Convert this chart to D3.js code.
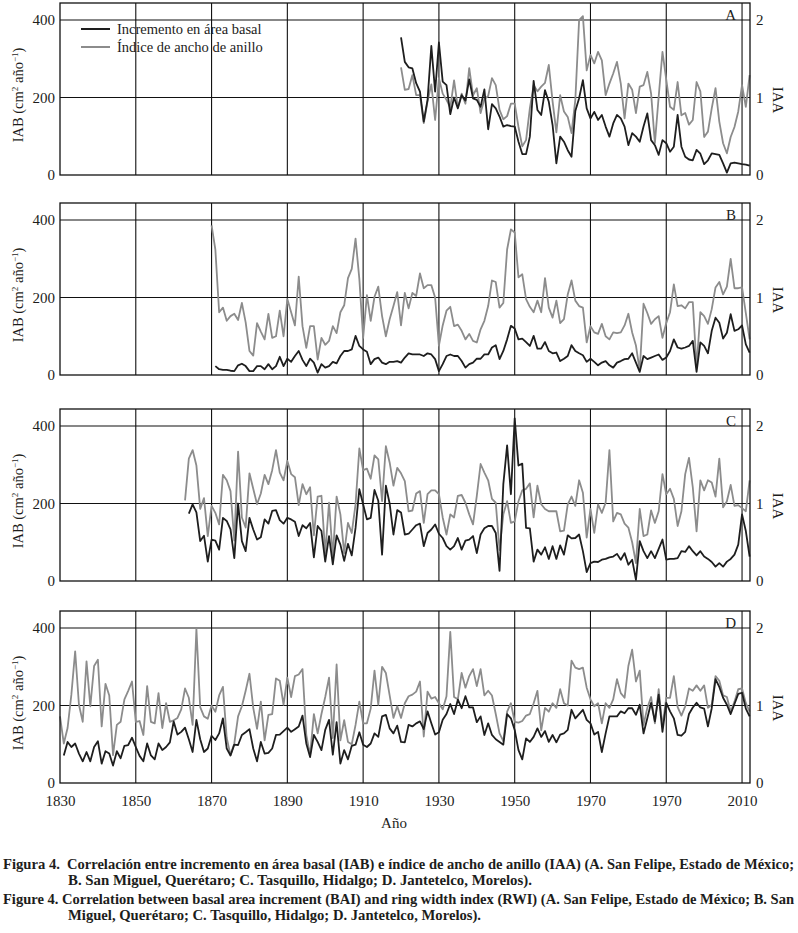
<!DOCTYPE html>
<html>
<head>
<meta charset="utf-8">
<script src="https://cdn.jsdelivr.net/npm/d3@7"></script>
<style>
  body { margin: 0; background: #fff; }
  svg { display: block; }
  text { font-family: "Liberation Serif", "DejaVu Serif", serif; fill: #1d1d1b; }
</style>
</head>
<body>
<script>
(function() {
  'use strict';

  // IAB (cm2/year) and IAA (index), one value per year from the start year
  var iabA = [
    355, 292, 278, 275, 237, 215, 138, 194, 333, 215,
    342, 241, 232, 157, 200, 172, 206, 192, 247, 198,
    194, 176, 221, 118, 183, 172, 151, 125, 129, 126,
    125, 86, 54, 54, 99, 243, 168, 155, 219, 189,
    129, 30, 99, 86, 64, 47, 165, 198, 245, 172,
    146, 163, 142, 155, 125, 99, 133, 155, 146, 125,
    77, 108, 99, 86, 125, 159, 90, 77, 52, 90,
    82, 60, 73, 155, 73, 47, 40, 38, 65, 55,
    28, 38, 56, 54, 52, 30, 6, 30, 32, 30,
    28, 27, 24
  ];
  var iaaA = [
    1.39, 1.10, 1.11, 1.29, 1.03, 1.03, 0.67, 0.95, 1.17, 0.71,
    1.25, 1.05, 0.97, 0.87, 1.22, 0.87, 1.05, 0.92, 1.38, 1.03,
    1.12, 0.80, 0.98, 1.02, 1.25, 1.16, 0.84, 0.72, 0.76, 0.92,
    0.92, 0.62, 0.37, 0.45, 0.86, 1.16, 1.08, 1.14, 1.19, 1.42,
    0.95, 0.55, 1.03, 0.82, 0.75, 0.54, 0.97, 2.00, 2.05, 1.35,
    1.55, 1.44, 1.59, 1.48, 1.03, 1.18, 1.31, 1.46, 1.18, 0.73,
    1.18, 1.10, 0.80, 1.14, 1.16, 1.33, 1.05, 0.41, 1.01, 1.59,
    1.23, 0.88, 0.84, 1.20, 0.77, 0.80, 0.65, 0.71, 1.20, 1.08,
    0.49, 0.56, 0.86, 1.12, 0.69, 0.41, 0.28, 0.49, 0.62, 0.82,
    1.16, 0.88, 1.29
  ];

  var iabB = [
    23, 15, 13, 13, 11, 10, 25, 29, 23,
    10, 10, 23, 23, 15, 28, 15, 23, 47, 23,
    42, 34, 49, 62, 39, 23, 42, 32, 6, 28,
    19, 23, 34, 30, 49, 62, 62, 66, 101, 75,
    66, 60, 28, 41, 45, 32, 28, 34, 34, 36,
    32, 45, 56, 53, 53, 53, 49, 56, 53, 41,
    10, 28, 49, 53, 49, 49, 36, 19, 28, 32,
    42, 42, 53, 53, 71, 77, 41, 62, 92, 127,
    120, 92, 94, 85, 75, 101, 68, 68, 85, 62,
    56, 58, 36, 42, 49, 77, 62, 56, 51, 34,
    42, 34, 25, 32, 36, 25, 19, 32, 36, 41,
    42, 56, 32, 8, 49, 41, 45, 49, 53, 39,
    45, 62, 92, 71, 68, 71, 75, 88, 8, 84,
    75, 56, 114, 148, 135, 94, 109, 157, 114, 118,
    128, 79, 58
  ];
  var iaaB = [
    1.93, 1.62, 0.81, 0.87, 0.70, 0.76, 0.79, 0.71, 0.93, 0.68,
    0.31, 0.25, 0.67, 0.56, 0.46, 0.79, 0.48, 0.50, 0.83, 0.50,
    0.98, 0.81, 0.64, 1.27, 0.63, 0.35, 0.63, 0.63, 0.20, 0.48,
    0.39, 0.44, 0.63, 0.54, 0.81, 0.90, 1.25, 1.37, 1.76, 1.24,
    0.48, 1.03, 0.70, 1.01, 1.14, 0.76, 0.50, 0.72, 0.89, 1.07,
    0.64, 1.06, 0.86, 1.06, 1.02, 1.31, 1.12, 1.16, 1.16, 1.00,
    0.38, 0.64, 0.83, 0.88, 0.63, 0.65, 0.57, 0.46, 0.53, 0.44,
    0.42, 0.59, 0.70, 0.89, 1.22, 1.20, 0.87, 0.93, 1.62, 1.88,
    1.84, 1.26, 1.30, 0.98, 0.88, 0.81, 0.96, 0.81, 1.25, 0.87,
    0.74, 0.96, 0.67, 0.72, 1.04, 1.22, 0.96, 0.89, 0.87, 0.42,
    0.63, 0.55, 0.53, 0.66, 0.50, 0.46, 0.55, 0.54, 0.55, 0.64,
    0.79, 0.55, 0.38, 0.06, 0.92, 0.80, 0.66, 0.72, 0.76, 0.48,
    0.67, 0.81, 1.17, 0.89, 0.90, 0.86, 0.94, 0.94, 0.10, 0.81,
    0.76, 0.66, 0.85, 1.13, 1.20, 1.04, 1.14, 1.50, 1.12, 1.12,
    1.13, 0.80, 0.46
  ];

  var iabC = [
    174, 198, 177, 103, 117, 50,
    107, 104, 81, 163, 155, 133, 59, 200, 103, 77,
    163, 133, 107, 113, 159, 148, 181, 183, 157, 148,
    163, 159, 153, 116, 144, 136, 150, 61, 142, 129,
    50, 116, 43, 118, 94, 52, 96, 66, 137, 237,
    198, 159, 163, 235, 207, 68, 246, 200, 120, 183,
    177, 120, 122, 133, 144, 148, 90, 124, 133, 146,
    122, 111, 90, 81, 90, 111, 81, 104, 107, 116,
    72, 120, 136, 142, 142, 124, 26, 250, 350, 224,
    420, 298, 303, 137, 136, 50, 81, 68, 87, 57,
    90, 57, 92, 68, 118, 110, 111, 120, 77, 23,
    46, 50, 49, 55, 57, 61, 63, 70, 55, 72,
    42, 55, 3, 103, 77, 59, 77, 59, 83, 107,
    55, 57, 57, 59, 77, 75, 90, 77, 66, 77,
    63, 57, 49, 37, 46, 37, 50, 57, 68, 94,
    172, 129, 63
  ];
  var iaaC = [
    1.04, 1.58, 1.69, 1.49, 0.93, 1.07, 0.58,
    0.97, 0.88, 0.73, 1.37, 1.30, 1.16, 0.52, 1.67, 0.82, 0.69,
    1.39, 1.19, 0.99, 1.13, 1.37, 1.25, 1.43, 1.69, 1.40, 1.30,
    1.55, 1.38, 1.34, 0.98, 1.25, 1.12, 1.21, 0.59, 1.09, 1.10,
    0.36, 1.01, 0.32, 1.09, 0.86, 0.36, 0.75, 0.62, 0.99, 1.71,
    1.43, 1.45, 1.32, 1.62, 1.57, 1.03, 1.74, 1.53, 1.23, 1.46,
    1.39, 1.29, 0.90, 0.91, 1.13, 1.16, 0.75, 1.12, 1.17, 1.17,
    1.12, 0.82, 0.60, 0.86, 0.82, 1.10, 1.11, 1.01, 0.86, 0.73,
    1.10, 1.51, 1.40, 1.30, 1.06, 1.01, 0.40, 0.86, 1.03, 0.75,
    0.77, 1.03, 1.17, 1.19, 1.26, 0.82, 1.23, 0.99, 0.93, 0.90,
    0.90, 0.90, 0.64, 0.65, 0.99, 1.09, 0.97, 1.30, 1.14, 0.56,
    0.93, 0.62, 0.99, 0.88, 1.01, 1.69, 0.77, 0.88, 0.86, 0.74,
    0.69, 0.50, 0.23, 0.93, 0.58, 0.60, 0.91, 0.75, 0.90, 1.38,
    1.12, 1.19, 1.06, 0.71, 0.90, 1.38, 1.59, 1.21, 0.64, 1.30,
    1.17, 1.30, 1.27, 1.09, 1.58, 0.95, 1.03, 1.24, 0.97, 0.98,
    0.94, 0.90, 1.30
  ];

  var iabD = [
    71, 106, 93, 102, 76, 56, 80, 56, 93,
    108, 50, 82, 76, 45, 82, 64, 96, 98, 117,
    93, 70, 56, 102, 71, 61, 102, 85, 93, 105,
    159, 125, 132, 143, 113, 80, 163, 113, 80, 89,
    122, 111, 128, 167, 89, 71, 99, 98, 124, 131,
    139, 89, 56, 106, 76, 78, 89, 124, 125, 134,
    143, 132, 139, 146, 174, 102, 67, 124, 106, 85,
    137, 163, 73, 157, 50, 85, 61, 96, 99, 131,
    99, 93, 102, 128, 119, 172, 176, 141, 128, 148,
    106, 105, 150, 146, 154, 159, 139, 185, 154, 125,
    131, 163, 178, 204, 178, 215, 193, 224, 195, 195,
    157, 172, 124, 154, 124, 113, 106, 99, 178, 167,
    137, 85, 61, 115, 106, 119, 141, 119, 134, 106,
    124, 105, 125, 128, 137, 189, 167, 178, 189, 163,
    154, 125, 132, 80, 128, 172, 172, 172, 185, 180,
    193, 193, 176, 202, 128, 167, 207, 159, 228, 132,
    207, 185, 167, 124, 122, 132, 178, 195, 207, 195,
    192, 146, 193, 268, 248, 220, 202, 178, 204, 230,
    233, 192, 172
  ];
  var iaaD = [
    0.86, 0.51, 0.71, 1.14, 1.70, 1.01, 0.79, 1.57, 0.99, 1.51,
    1.59, 0.73, 1.28, 1.13, 0.36, 0.75, 0.79, 1.08, 1.19, 1.31,
    0.79, 0.80, 0.62, 1.25, 0.79, 0.77, 1.16, 0.71, 1.03, 0.79,
    0.81, 0.84, 0.95, 1.22, 1.10, 0.75, 1.99, 0.98, 0.86, 0.83,
    1.00, 0.92, 1.13, 1.24, 0.58, 0.36, 0.51, 0.86, 0.99, 1.19,
    1.41, 0.97, 0.70, 1.05, 0.55, 0.88, 0.89, 1.35, 1.32, 1.01,
    1.36, 1.11, 1.38, 1.40, 1.47, 0.62, 0.36, 0.89, 0.64, 0.89,
    1.11, 1.36, 0.58, 1.53, 0.55, 0.81, 0.53, 0.50, 0.75, 1.05,
    0.77, 0.77, 0.96, 1.45, 1.01, 1.50, 1.42, 1.13, 0.84, 0.99,
    0.84, 1.03, 1.12, 1.14, 1.18, 1.31, 0.60, 1.18, 1.09, 1.11,
    1.03, 0.95, 1.12, 1.95, 1.11, 1.08, 1.42, 1.23, 1.38, 1.47,
    1.25, 1.47, 1.13, 1.19, 1.13, 0.89, 0.64, 0.54, 0.92, 1.03,
    0.79, 0.78, 0.80, 0.87, 0.89, 1.03, 1.19, 0.68, 0.97, 0.92,
    1.03, 0.97, 1.21, 1.03, 1.00, 1.58, 1.49, 1.47, 1.49, 1.23,
    1.08, 0.99, 1.03, 0.77, 1.03, 0.97, 1.08, 1.34, 1.16, 1.10,
    1.51, 1.72, 1.31, 1.45, 0.75, 0.97, 1.11, 0.77, 1.21, 0.73,
    1.10, 1.10, 1.38, 0.98, 0.87, 0.99, 1.22, 1.19, 1.26, 1.19,
    1.26, 0.97, 1.01, 1.38, 1.32, 1.13, 1.11, 0.92, 1.05, 1.21,
    1.22, 1.03, 0.92
  ];

  var iabStart = [1920, 1871, 1864, 1831];
  var iaaStart = [1920, 1870, 1863, 1830];
  var panelLetters = ['A', 'B', 'C', 'D'];
  var gridYears = [1850, 1870, 1890, 1910, 1930, 1950, 1970, 1990, 2010];
  var tickYears = [1830, 1850, 1870, 1890, 1910, 1930, 1950, 1970, 1990, 2010];
  var tickLabels = ['1830', '1850', '1870', '1890', '1910', '1930', '1950', '1970', '1970', '2010'];
  var iabTicks = [0, 200, 400];
  var iaaTicks = [0, 1, 2];
  var legendLabels = ['Incremento en área basal', 'Índice de ancho de anillo'];

  var panels = [
    { iab: iabA, iaa: iaaA },
    { iab: iabB, iaa: iaaB },
    { iab: iabC, iaa: iaaC },
    { iab: iabD, iaa: iaaD }
  ];

  var BLACK = '#1e1e1e', GRAY = '#8c8c8c';
  var left = 60, right = 750, panelH = 172;
  var panelTop = [3, 203, 409, 611];

  var svg = d3.select('body').append('svg').attr('width', 798).attr('height', 933);

  var x = d3.scaleLinear().domain([1830, 2012.1]).range([left, right]);

  function series(values, start) {
    return values.map(function(v, i) {
      return { year: start + i, v: v };
    });
  }

  function styleAxis(g) {
    g.attr('font-family', null).attr('font-size', 15);
    g.select('.domain').remove();
    g.selectAll('.tick line').remove();
  }

  panels.forEach(function(p, k) {
    var top = panelTop[k];
    var y = d3.scaleLinear().domain([0, 444]).range([top + panelH, top]);
    var yr = d3.scaleLinear().domain([0, 2.22]).range([top + panelH, top]);
    var g = svg.append('g').attr('class', 'panel-' + panelLetters[k]);

    g.selectAll('line.vgrid').data(gridYears).enter().append('line')
      .attr('class', 'vgrid')
      .attr('x1', function(d) { return x(d); }).attr('x2', function(d) { return x(d); })
      .attr('y1', top).attr('y2', top + panelH)
      .attr('stroke', '#111').attr('stroke-width', 1.1);

    g.selectAll('line.hgrid').data([200, 400]).enter().append('line')
      .attr('class', 'hgrid')
      .attr('x1', left).attr('x2', right)
      .attr('y1', function(d) { return y(d); }).attr('y2', function(d) { return y(d); })
      .attr('stroke', '#111').attr('stroke-width', 1.1);

    g.append('path').datum(series(p.iaa, iaaStart[k]))
      .attr('fill', 'none').attr('stroke', GRAY).attr('stroke-width', 1.8)
      .attr('stroke-linejoin', 'round')
      .attr('d', d3.line().x(function(d) { return x(d.year); }).y(function(d) { return yr(d.v); }));

    g.append('path').datum(series(p.iab, iabStart[k]))
      .attr('fill', 'none').attr('stroke', BLACK).attr('stroke-width', 1.8)
      .attr('stroke-linejoin', 'round')
      .attr('d', d3.line().x(function(d) { return x(d.year); }).y(function(d) { return y(d.v); }));

    g.append('rect')
      .attr('x', left).attr('y', top).attr('width', right - left).attr('height', panelH)
      .attr('fill', 'none').attr('stroke', '#111').attr('stroke-width', 1.3);

    g.append('g').attr('transform', 'translate(' + left + ',0)')
      .call(d3.axisLeft(y).tickValues(iabTicks).tickSize(0).tickPadding(5).tickFormat(d3.format('d')))
      .call(styleAxis);

    g.append('g').attr('transform', 'translate(' + right + ',0)')
      .call(d3.axisRight(yr).tickValues(iaaTicks).tickSize(0).tickPadding(6).tickFormat(d3.format('d')))
      .call(styleAxis);

    var t = g.append('text')
      .attr('transform', 'translate(23,' + (top + 92) + ') rotate(-90)')
      .attr('text-anchor', 'middle').attr('font-size', 14.5);
    t.append('tspan').text('IAB (cm');
    t.append('tspan').attr('dy', -5).attr('font-size', 9).text('2');
    t.append('tspan').attr('dy', 5).text(' año');
    t.append('tspan').attr('dy', -5).attr('font-size', 9).text('\u22121');
    t.append('tspan').attr('dy', 5).text(')');

    g.append('text')
      .attr('transform', 'translate(773,' + (top + 97) + ') rotate(90)')
      .attr('text-anchor', 'middle').attr('font-size', 15)
      .text('IAA');

    g.append('text')
      .attr('x', 736).attr('y', top + 17)
      .attr('text-anchor', 'end').attr('font-size', 15)
      .text(panelLetters[k]);

    if (k === 0) {
      var lg = g.selectAll('g.legend').data(legendLabels).enter().append('g')
        .attr('class', 'legend')
        .attr('transform', function(d, i) { return 'translate(81,' + (top + 26 + i * 18) + ')'; });
      lg.append('line').attr('x1', 0).attr('x2', 29).attr('y1', 0).attr('y2', 0)
        .attr('stroke', function(d, i) { return i === 0 ? BLACK : GRAY; })
        .attr('stroke-width', 2);
      lg.append('text').attr('x', 36).attr('y', 5).attr('font-size', 14.5)
        .text(function(d) { return d; });
    }

    if (k === panels.length - 1) {
      g.append('g').attr('transform', 'translate(0,' + (top + panelH) + ')')
        .call(d3.axisBottom(x).tickValues(tickYears).tickSize(0).tickPadding(12)
          .tickFormat(function(d, i) { return tickLabels[i]; }))
        .call(styleAxis);
    }
  });

  svg.append('text').attr('x', 394).attr('y', 828)
    .attr('text-anchor', 'middle').attr('font-size', 15).text('Año');

  var caption = [
    { x: 3, y: 869, w: 57, s: 'Figura 4.' },
    { x: 67, y: 869, w: 727, s: 'Correlación entre incremento en área basal (IAB) e índice de ancho de anillo (IAA) (A. San Felipe, Estado de México;' },
    { x: 68, y: 885, w: 464, s: 'B. San Miguel, Querétaro; C. Tasquillo, Hidalgo; D. Jantetelco, Morelos).' },
    { x: 3, y: 904, w: 791, s: 'Figure 4. Correlation between basal area increment (BAI) and ring width index (RWI) (A. San Felipe, Estado de México; B. San' },
    { x: 68, y: 920, w: 413, s: 'Miguel, Querétaro; C. Tasquillo, Hidalgo; D. Jantetelco, Morelos).' }
  ];

  svg.selectAll('text.caption').data(caption).enter().append('text')
    .attr('class', 'caption')
    .attr('x', function(d) { return d.x; }).attr('y', function(d) { return d.y; })
    .attr('textLength', function(d) { return d.w; })
    .attr('lengthAdjust', 'spacingAndGlyphs')
    .attr('font-size', 14).attr('font-weight', 'bold')
    .text(function(d) { return d.s; });

}).call(this);
</script>
</body>
</html>
